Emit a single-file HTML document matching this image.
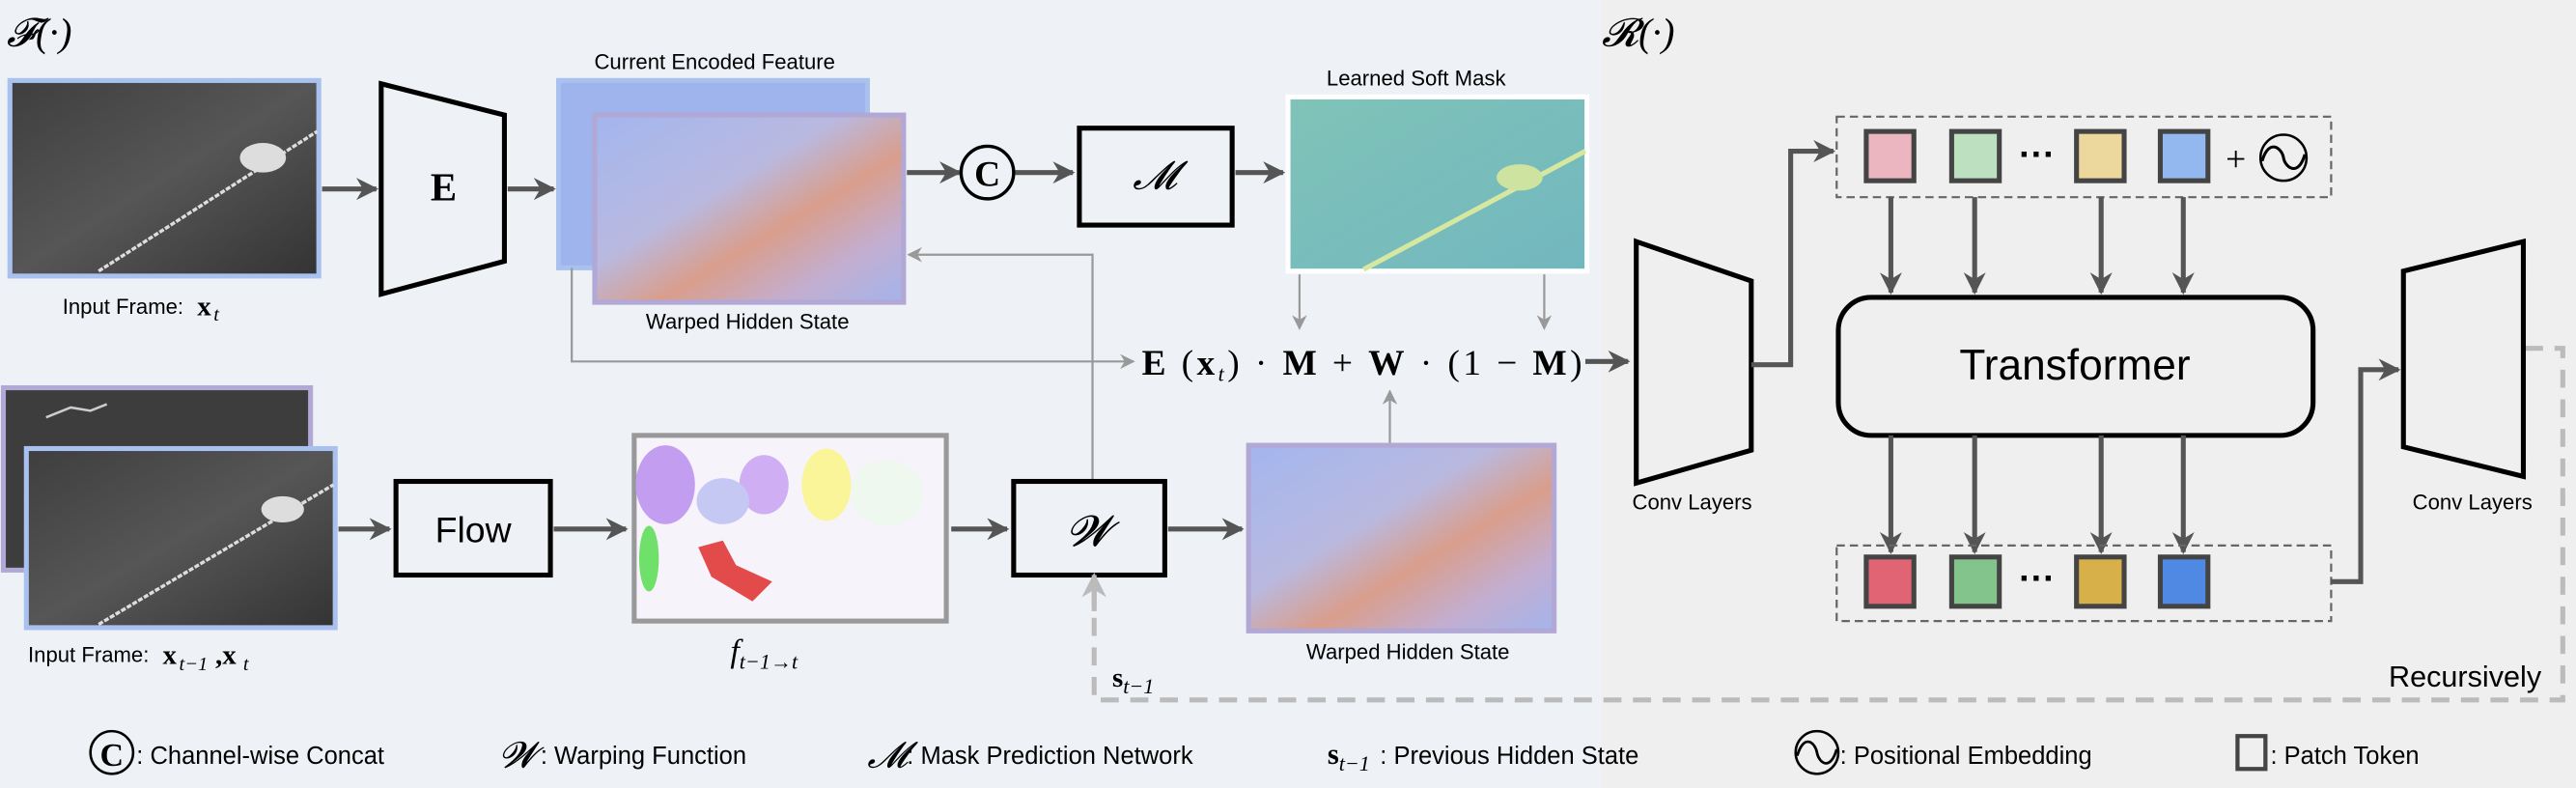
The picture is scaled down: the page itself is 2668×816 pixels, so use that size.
<!DOCTYPE html>
<html><head><meta charset="utf-8"><style>
html,body{margin:0;padding:0;background:#eef1f6;}
svg{display:block}
text{font-family:"Liberation Sans",sans-serif;}
.m{font-family:"Liberation Serif",serif;}
</style></head><body>
<svg width="2668" height="816" viewBox="0 0 1568 479.6" xmlns="http://www.w3.org/2000/svg">
<defs>
<marker id="ah" viewBox="0 0 10 10" refX="9" refY="5" markerWidth="4.5" markerHeight="4.5" orient="auto-start-reverse"><path d="M0,0 L10,5 L0,10 L3,5 z" fill="#555"/></marker>
<marker id="ahs" viewBox="0 0 10 10" refX="9" refY="5" markerWidth="7" markerHeight="7" orient="auto"><path d="M0,0 L10,5 L0,10 L3,5 z" fill="#999"/></marker>
<marker id="ahl" viewBox="0 0 10 10" refX="9" refY="5" markerWidth="5" markerHeight="5" orient="auto"><path d="M0,0 L10,5 L0,10 L3,5 z" fill="#bbb"/></marker>
<linearGradient id="dark" x1="0" y1="0" x2="1" y2="1"><stop offset="0" stop-color="#3e3e3e"/><stop offset="0.5" stop-color="#565656"/><stop offset="1" stop-color="#333"/></linearGradient>
<linearGradient id="feat" x1="0" y1="0" x2="1" y2="1"><stop offset="0" stop-color="#a3b6ee"/><stop offset="0.4" stop-color="#b9b9e0"/><stop offset="0.6" stop-color="#d99e8c"/><stop offset="0.8" stop-color="#c3aed0"/><stop offset="1" stop-color="#a3b4ec"/></linearGradient>
<linearGradient id="mask" x1="0" y1="0" x2="1" y2="1"><stop offset="0" stop-color="#80c3b8"/><stop offset="1" stop-color="#72b7bf"/></linearGradient>
</defs>
<rect x="0" y="0" width="975" height="480" fill="#eef1f6"/>
<rect x="975" y="0" width="593" height="480" fill="#efefef"/>

<text x="4" y="28" class="m" font-size="24" font-style="italic">𝓕(·)</text>
<text x="975" y="28" class="m" font-size="24" font-style="italic">𝓡(·)</text>

<rect x="6" y="49" width="188" height="119" fill="url(#dark)" stroke="#a9c1ee" stroke-width="3"/>
<line x1="60" y1="165" x2="193" y2="80" stroke="#ddd" stroke-width="2" stroke-dasharray="3,1"/>
<ellipse cx="160" cy="96" rx="14" ry="9" fill="#ddd"/>
<text x="38" y="191" font-size="13">Input Frame:</text><text x="120" y="192" class="m" font-size="17" font-weight="bold">x</text><text x="130" y="195" class="m" font-size="12" font-style="italic">t</text>
<line x1="196" y1="115" x2="229" y2="115" stroke="#555" stroke-width="3" marker-end="url(#ah)"/>
<polygon points="232,51 307,70 307,159 232,179" fill="none" stroke="#000" stroke-width="3"/>
<text x="270" y="122" class="m" font-size="24" font-weight="bold" text-anchor="middle">E</text>
<line x1="309" y1="115" x2="337" y2="115" stroke="#555" stroke-width="3" marker-end="url(#ah)"/>

<text x="435" y="42" font-size="13" text-anchor="middle">Current Encoded Feature</text>
<rect x="340" y="49" width="188" height="114" fill="#9fb3ec" stroke="#a9c1ee" stroke-width="3"/>
<rect x="362" y="70" width="188" height="114" fill="url(#feat)" stroke="#b2a8d6" stroke-width="3"/>
<text x="455" y="200" font-size="13" text-anchor="middle">Warped Hidden State</text>
<line x1="552" y1="105" x2="584" y2="105" stroke="#555" stroke-width="3" marker-end="url(#ah)"/>
<circle cx="601" cy="105" r="16" fill="none" stroke="#000" stroke-width="2"/>
<text x="601" y="113" class="m" font-size="22" font-weight="bold" text-anchor="middle">C</text>
<line x1="618" y1="105" x2="653" y2="105" stroke="#555" stroke-width="3" marker-end="url(#ah)"/>
<rect x="657" y="78" width="93" height="59" fill="none" stroke="#000" stroke-width="3"/>
<text x="703" y="115" class="m" font-size="24" font-style="italic" text-anchor="middle">𝓜</text>
<line x1="752" y1="105" x2="781" y2="105" stroke="#555" stroke-width="3" marker-end="url(#ah)"/>

<text x="862" y="52" font-size="13" text-anchor="middle">Learned Soft Mask</text>
<rect x="784" y="59" width="182" height="106" fill="url(#mask)" stroke="#fff" stroke-width="3"/>
<line x1="830" y1="164" x2="965" y2="92" stroke="#d6e8a0" stroke-width="3"/>
<ellipse cx="925" cy="108" rx="14" ry="8" fill="#cfe3a0"/>
<line x1="791" y1="167" x2="791" y2="200" stroke="#999" stroke-width="1.3" marker-end="url(#ahs)"/>
<line x1="940" y1="167" x2="940" y2="200" stroke="#999" stroke-width="1.3" marker-end="url(#ahs)"/>

<polyline points="348,163 348,220 690,220" fill="none" stroke="#999" stroke-width="1.3" marker-end="url(#ahs)"/>
<polyline points="665,293 665,155 553,155" fill="none" stroke="#999" stroke-width="1.3" marker-end="url(#ahs)"/>
<line x1="846" y1="270" x2="846" y2="238" stroke="#999" stroke-width="1.3" marker-end="url(#ahs)"/>

<text x="695" y="228" class="m" font-size="22" textLength="268" lengthAdjust="spacing"><tspan font-weight="bold">E</tspan> (<tspan font-weight="bold">x</tspan><tspan font-size="13" font-style="italic" dy="4">t</tspan><tspan dy="-4">) · </tspan><tspan font-weight="bold">M</tspan> + <tspan font-weight="bold">W</tspan> · (1 − <tspan font-weight="bold">M</tspan>)</text>
<line x1="965" y1="220" x2="991" y2="220" stroke="#555" stroke-width="3" marker-end="url(#ah)"/>

<rect x="2" y="236" width="187" height="111" fill="#3d3d3d" stroke="#b2a8d6" stroke-width="3"/>
<path d="M28,254 l15,-6 l12,2 l10,-4" stroke="#ccc" stroke-width="1.5" fill="none"/>
<rect x="16" y="273" width="188" height="109" fill="url(#dark)" stroke="#a9c1ee" stroke-width="3"/>
<line x1="60" y1="380" x2="203" y2="295" stroke="#ddd" stroke-width="2" stroke-dasharray="3,1"/>
<ellipse cx="172" cy="310" rx="13" ry="8" fill="#ddd"/>
<text x="17" y="403" font-size="13">Input Frame:</text><text x="99" y="404" class="m" font-size="17" font-weight="bold">x</text><text x="109" y="408" class="m" font-size="12" font-style="italic">t−1</text><text x="131" y="404" class="m" font-size="17" font-weight="bold">,x</text><text x="148" y="408" class="m" font-size="12" font-style="italic">t</text>
<line x1="206" y1="322" x2="237" y2="322" stroke="#555" stroke-width="3" marker-end="url(#ah)"/>
<rect x="241" y="293" width="94" height="57" fill="none" stroke="#000" stroke-width="3"/>
<text x="288" y="330" font-size="22" text-anchor="middle">Flow</text>
<line x1="337" y1="322" x2="381" y2="322" stroke="#555" stroke-width="3" marker-end="url(#ah)"/>
<rect x="386" y="265" width="190" height="113" fill="#f6f3fb" stroke="#999" stroke-width="3"/>
<ellipse cx="405" cy="295" rx="18" ry="24" fill="#c39ef0"/>
<ellipse cx="395" cy="340" rx="6" ry="20" fill="#6fe06a"/>
<ellipse cx="465" cy="295" rx="15" ry="18" fill="#cfaef3"/>
<ellipse cx="440" cy="305" rx="16" ry="14" fill="#c6c8f4"/>
<ellipse cx="503" cy="295" rx="15" ry="22" fill="#fbf59a"/>
<path d="M425,333 l15,-4 l8,15 l22,10 l-12,12 l-25,-15 z" fill="#e34b4b"/>
<ellipse cx="540" cy="300" rx="22" ry="20" fill="#eef8ee"/>
<text x="465" y="403" class="m" font-size="20" font-style="italic" text-anchor="middle">f<tspan font-size="13" dy="4">t−1→t</tspan></text>
<line x1="579" y1="322" x2="613" y2="322" stroke="#555" stroke-width="3" marker-end="url(#ah)"/>
<rect x="617" y="293" width="92" height="57" fill="none" stroke="#000" stroke-width="3"/>
<text x="663" y="332" class="m" font-size="26" font-style="italic" text-anchor="middle">𝓦</text>
<line x1="711" y1="322" x2="756" y2="322" stroke="#555" stroke-width="3" marker-end="url(#ah)"/>
<rect x="760" y="271" width="186" height="113" fill="url(#feat)" stroke="#b2a8d6" stroke-width="3"/>
<text x="857" y="401" font-size="13" text-anchor="middle">Warped Hidden State</text>

<polyline points="1537,212 1560,212 1560,426 666,426 666,352" fill="none" stroke="#bbb" stroke-width="3" stroke-dasharray="11,7"/>
<line x1="666" y1="372" x2="666" y2="350" stroke="#bbb" stroke-width="3" marker-end="url(#ahl)"/>
<text x="677" y="418" class="m" font-size="17" font-weight="bold">s<tspan font-weight="normal" font-style="italic" font-size="13" dy="4">t−1</tspan></text>
<text x="1547" y="418" font-size="18" text-anchor="end">Recursively</text>

<polygon points="996,147 1066,171 1066,274 996,294" fill="none" stroke="#000" stroke-width="3"/>
<text x="1030" y="310" font-size="13" text-anchor="middle">Conv Layers</text>
<polyline points="1066,222 1090,222 1090,92 1116,92" fill="none" stroke="#555" stroke-width="3" marker-end="url(#ah)"/>

<rect x="1118" y="71" width="301" height="49" fill="none" stroke="#666" stroke-width="1.3" stroke-dasharray="5,3"/>
<rect x="1136" y="80" width="29" height="30" fill="#ecb6c1" stroke="#444" stroke-width="3"/>
<rect x="1188" y="80" width="29" height="30" fill="#bce0c0" stroke="#444" stroke-width="3"/>
<rect x="1264" y="80" width="29" height="30" fill="#ecd79c" stroke="#444" stroke-width="3"/>
<rect x="1315" y="80" width="29" height="30" fill="#92b8ef" stroke="#444" stroke-width="3"/>
<text x="1240" y="101" font-size="22" text-anchor="middle" font-weight="bold">···</text>
<text x="1361" y="104" class="m" font-size="22" text-anchor="middle">+</text>
<circle cx="1390" cy="96" r="14" fill="none" stroke="#000" stroke-width="1.5"/>
<path d="M1377,98 C1381,84 1389,90 1390,96 C1391,102 1399,108 1403,94" fill="none" stroke="#000" stroke-width="1.8"/>
<g stroke="#555" stroke-width="3">
<line x1="1151" y1="120" x2="1151" y2="178" marker-end="url(#ah)"/>
<line x1="1202" y1="120" x2="1202" y2="178" marker-end="url(#ah)"/>
<line x1="1279" y1="120" x2="1279" y2="178" marker-end="url(#ah)"/>
<line x1="1329" y1="120" x2="1329" y2="178" marker-end="url(#ah)"/>
</g>
<rect x="1119" y="181" width="289" height="84" rx="20" fill="none" stroke="#000" stroke-width="3"/>
<text x="1263" y="231" font-size="26" text-anchor="middle">Transformer</text>
<g stroke="#555" stroke-width="3">
<line x1="1151" y1="265" x2="1151" y2="336" marker-end="url(#ah)"/>
<line x1="1202" y1="265" x2="1202" y2="336" marker-end="url(#ah)"/>
<line x1="1279" y1="265" x2="1279" y2="336" marker-end="url(#ah)"/>
<line x1="1329" y1="265" x2="1329" y2="336" marker-end="url(#ah)"/>
</g>
<rect x="1118" y="332" width="301" height="46" fill="none" stroke="#666" stroke-width="1.3" stroke-dasharray="5,3"/>
<rect x="1136" y="339" width="29" height="30" fill="#e06474" stroke="#444" stroke-width="3"/>
<rect x="1188" y="339" width="29" height="30" fill="#82c48b" stroke="#444" stroke-width="3"/>
<rect x="1264" y="339" width="29" height="30" fill="#d7b04a" stroke="#444" stroke-width="3"/>
<rect x="1315" y="339" width="29" height="30" fill="#4f89e4" stroke="#444" stroke-width="3"/>
<text x="1240" y="359" font-size="22" text-anchor="middle" font-weight="bold">···</text>
<polyline points="1419,354 1437,354 1437,225 1460,225" fill="none" stroke="#555" stroke-width="3" marker-end="url(#ah)"/>

<polygon points="1463,165 1536,147 1536,290 1463,272" fill="none" stroke="#000" stroke-width="3"/>
<text x="1505" y="310" font-size="13" text-anchor="middle">Conv Layers</text>

<circle cx="68" cy="458" r="13" fill="none" stroke="#000" stroke-width="1.5"/>
<text x="68" y="466" class="m" font-size="20" font-weight="bold" text-anchor="middle">C</text>
<text x="83" y="465" font-size="15">: Channel-wise Concat</text>
<text x="304" y="467" class="m" font-size="22" font-style="italic">𝓦</text>
<text x="329" y="465" font-size="15">: Warping Function</text>
<text x="528" y="467" class="m" font-size="22" font-style="italic">𝓜</text>
<text x="552" y="465" font-size="15">: Mask Prediction Network</text>
<text x="808" y="465" class="m" font-size="18" font-weight="bold">s<tspan font-weight="normal" font-style="italic" font-size="13" dy="4">t−1</tspan></text>
<text x="840" y="465" font-size="15">: Previous Hidden State</text>
<circle cx="1106" cy="458" r="13" fill="none" stroke="#000" stroke-width="1.5"/>
<path d="M1094,460 C1098,446 1105,452 1106,458 C1107,464 1114,470 1118,456" fill="none" stroke="#000" stroke-width="1.6"/>
<text x="1120" y="465" font-size="15">: Positional Embedding</text>
<rect x="1362" y="448" width="17" height="20" fill="none" stroke="#444" stroke-width="2.5"/>
<text x="1382" y="465" font-size="15">: Patch Token</text>
</svg>
</body></html>
